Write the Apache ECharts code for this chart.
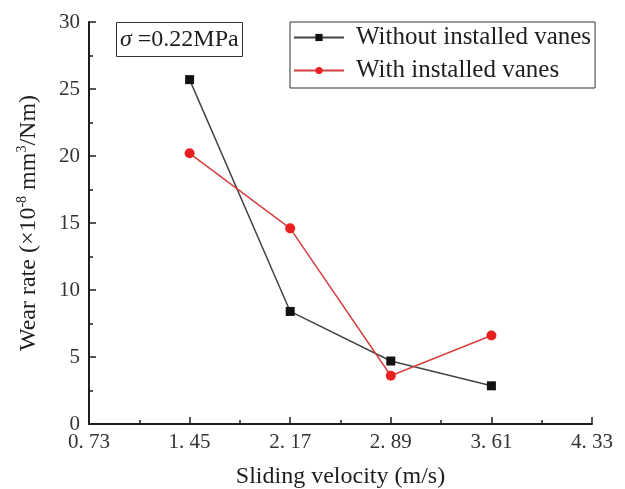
<!DOCTYPE html>
<html>
<head>
    <meta charset="UTF-8">
    <title>Wear rate</title>
    <script src="https://cdn.jsdelivr.net/npm/echarts@6/dist/echarts.min.js"></script>
    <style>
        html, body { margin: 0; padding: 0; background: #fff; }
    </style>
</head>
<body>
<div id="main" style="width: 625px;height:489px;"></div>
<script type="text/javascript">
    // sliding velocity (m/s)
    var velocity = [1.45, 2.17, 2.89, 3.61];
    // wear rate (x10^-8 mm3/Nm)
    var withoutVanes = [25.7, 8.4, 4.7, 2.85];
    var withVanes = [20.2, 14.6, 3.6, 6.6];
    var seriesNames = ['Without installed vanes', 'With installed vanes'];

    function pairs(xs, ys) {
        return xs.map(function (x, i) { return [x, ys[i]]; });
    }

    var font = '"Liberation Serif", "Times New Roman", serif';
    var ink = '#1e1e1e';

    echarts.init(document.getElementById('main')).setOption({
        animation: false,
        backgroundColor: '#fff',
        textStyle: {fontFamily: font, color: ink},
        grid: {left: 89, right: 33, top: 22, bottom: 65, outerBoundsMode: 'none'},
        title: {
            text: '{i|σ} =0.22MPa',
            left: 116,
            top: 22,
            padding: [6, 4, 5, 4],
            borderColor: '#333',
            borderWidth: 1,
            textStyle: {
                fontFamily: font,
                fontSize: 24,
                fontWeight: 'normal',
                color: ink,
                rich: {
                    i: {fontFamily: font, fontSize: 24, fontStyle: 'italic', color: ink}
                }
            }
        },
        legend: {
            orient: 'vertical',
            left: 290,
            top: 22,
            padding: [3, 4, 5, 3],
            itemGap: 8,
            itemWidth: 50,
            itemHeight: 9,
            borderColor: '#333',
            borderWidth: 1,
            textStyle: {fontFamily: font, fontSize: 25, color: ink, padding: [0, 0, 0, 7]},
            data: seriesNames
        },
        xAxis: {
            type: 'value',
            min: 0.73,
            max: 4.33,
            interval: 0.72,
            splitLine: {show: false},
            minorTick: {show: true, splitNumber: 2, length: 4, lineStyle: {color: ink, width: 1.5}},
            axisLine: {onZero: false, lineStyle: {color: ink, width: 2}},
            axisTick: {inside: true, length: 7, lineStyle: {color: ink, width: 1.5}},
            axisLabel: {
                fontFamily: font, fontSize: 21, color: '#333', margin: 8,
                formatter: function (v) { return v.toFixed(2).replace('.', '. '); }
            },
            name: 'Sliding velocity (m/s)',
            nameLocation: 'middle',
            nameGap: 41,
            nameTextStyle: {fontFamily: font, fontSize: 24, color: ink}
        },
        yAxis: {
            type: 'value',
            min: 0,
            max: 30,
            interval: 5,
            splitLine: {show: false},
            minorTick: {show: true, splitNumber: 2, length: 4, lineStyle: {color: ink, width: 1.5}},
            axisLine: {show: true, lineStyle: {color: ink, width: 2}},
            axisTick: {show: true, inside: true, length: 7, lineStyle: {color: ink, width: 1.5}},
            axisLabel: {fontFamily: font, fontSize: 21, color: '#333', margin: 9},
            name: 'Wear rate (×10{s|-8} mm{s|3}/Nm)',
            nameLocation: 'middle',
            nameRotate: 90,
            nameGap: 46,
            nameTextStyle: {
                fontFamily: font, fontSize: 24, color: ink, lineHeight: 28,
                rich: {
                    s: {fontFamily: font, fontSize: 14, color: ink, verticalAlign: 'top', lineHeight: 28}
                }
            }
        },
        series: [
            {
                name: seriesNames[0],
                type: 'line',
                data: pairs(velocity, withoutVanes),
                symbol: 'rect',
                symbolSize: 9,
                itemStyle: {color: '#111'},
                lineStyle: {color: '#444', width: 1.5}
            },
            {
                name: seriesNames[1],
                type: 'line',
                data: pairs(velocity, withVanes),
                symbol: 'circle',
                symbolSize: 10,
                itemStyle: {color: '#e82020'},
                lineStyle: {color: '#d44040', width: 1.5}
            }
        ]
    });
</script>
</body>
</html>
